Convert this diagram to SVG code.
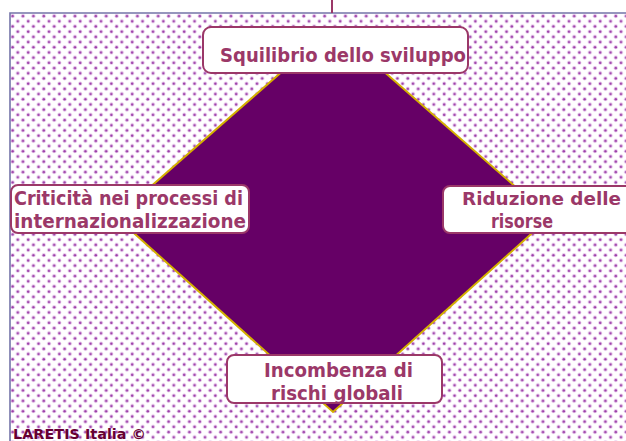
<svg xmlns="http://www.w3.org/2000/svg" width="626" height="441" viewBox="0 0 626 441">
<defs>
<pattern id="dots" patternUnits="userSpaceOnUse" x="10" y="13" width="10.4" height="10.4">
<circle cx="2.6" cy="3" r="2" fill="#E6C3EA"/>
<circle cx="2.6" cy="3" r="1.2" fill="#9B3FA8"/>
<circle cx="7.8" cy="8.2" r="2" fill="#E6C3EA"/>
<circle cx="7.8" cy="8.2" r="1.2" fill="#9B3FA8"/>
</pattern>
<style>
.box{fill:#fff;stroke:#9B3868;stroke-width:2}
.t{font-family:"DejaVu Sans","Liberation Sans",Arial,sans-serif;font-weight:bold;fill:#9B3868;font-size:20px}
.foot{font-family:"DejaVu Sans","Liberation Sans",Arial,sans-serif;font-weight:bold;fill:#660033;font-size:14px}
</style>
</defs>
<rect width="626" height="441" fill="#fff"/>
<rect x="10" y="13" width="630" height="440" fill="url(#dots)"/>
<path d="M10,441 V13 H626" fill="none" stroke="#7474A8" stroke-width="1.6"/>
<g id="connectors">
<line x1="332" y1="0" x2="332" y2="13" stroke="#9B3868" stroke-width="2"/>
</g>
<g id="diamond">
<polygon points="333,27 550,217 333,412 116,217" fill="#660066" stroke="#D4B000" stroke-width="2"/>
</g>
<g id="node-top">
<rect class="box" x="203" y="27" width="265" height="46" rx="8"/>
<text class="t" x="220" y="62" textLength="246" lengthAdjust="spacingAndGlyphs">Squilibrio dello sviluppo</text>
</g>
<g id="node-left">
<rect class="box" x="11" y="185" width="238" height="48" rx="7"/>
<text class="t" x="14" y="205" textLength="229" lengthAdjust="spacingAndGlyphs">Criticità nei processi di</text>
<text class="t" x="14" y="228" textLength="232" lengthAdjust="spacingAndGlyphs">internazionalizzazione</text>
</g>
<g id="node-right">
<rect class="box" x="443" y="186" width="200" height="47" rx="7"/>
<text class="t" x="462" y="205" style="font-size:17px" textLength="159" lengthAdjust="spacingAndGlyphs">Riduzione  delle</text>
<text class="t" x="491" y="228" textLength="62" lengthAdjust="spacingAndGlyphs">risorse</text>
</g>
<g id="node-bottom">
<rect class="box" x="227" y="355" width="215" height="48" rx="7"/>
<text class="t" x="264" y="377" textLength="149" lengthAdjust="spacingAndGlyphs">Incombenza  di</text>
<text class="t" x="271" y="400" textLength="132" lengthAdjust="spacingAndGlyphs">rischi  globali</text>
</g>
<text class="foot" x="13" y="439" textLength="133" lengthAdjust="spacingAndGlyphs">LARETIS  Italia  ©</text>
</svg>
